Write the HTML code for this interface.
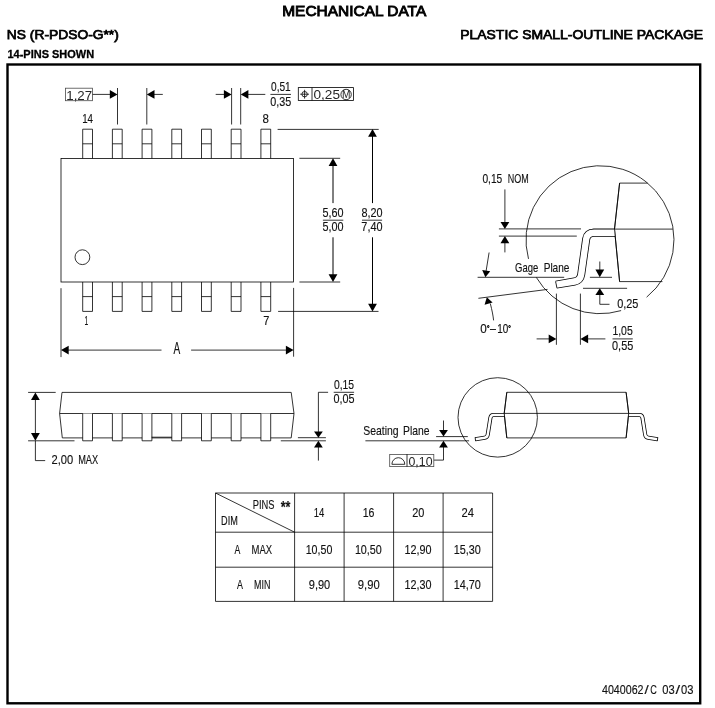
<!DOCTYPE html>
<html><head><meta charset="utf-8"><title>Mechanical Data</title>
<style>
html,body{margin:0;padding:0;background:#fff;}
svg{display:block;will-change:transform;}
.ln *{fill:none;stroke:#000;stroke-width:0.8;}
.ln .w{fill:#fff;}
.ln .d{stroke-width:1;}
.ah{fill:#000;stroke:none;}
text{font-family:"Liberation Sans",sans-serif;fill:#000;}
.t{fill:#111;stroke:#111;stroke-width:0.14px;}
.tw{fill:#262626;stroke:none;}
.tb{font-weight:bold;}
.ln .gb{stroke:#4a4a4a;}
.hb{stroke:#000;stroke-width:0.75px;}
.hb2{font-weight:bold;stroke:#000;stroke-width:0.3px;}
.hb3{stroke:#000;stroke-width:0.85px;}
</style></head>
<body>
<svg width="715" height="708" viewBox="0 0 715 708">
<rect width="715" height="708" fill="#fff"/>
<rect x="7.5" y="64.5" width="692.7" height="638.8" fill="none" stroke="#000" stroke-width="2.4"/>
<g class="ln">
<rect x="61" y="158.4" width="232.55" height="123.6"/>
<path d="M82.7,158.4 V129.2 H92.5 V158.4 M82.7,143.8 H92.5" />
<path d="M82.7,282.0 V311.4 H92.5 V282.0 M82.7,296.6 H92.5" />
<path d="M112.4,158.4 V129.2 H122.2 V158.4 M112.4,143.8 H122.2" />
<path d="M112.4,282.0 V311.4 H122.2 V282.0 M112.4,296.6 H122.2" />
<path d="M142.1,158.4 V129.2 H151.9 V158.4 M142.1,143.8 H151.9" />
<path d="M142.1,282.0 V311.4 H151.9 V282.0 M142.1,296.6 H151.9" />
<path d="M171.8,158.4 V129.2 H181.6 V158.4 M171.8,143.8 H181.6" />
<path d="M171.8,282.0 V311.4 H181.6 V282.0 M171.8,296.6 H181.6" />
<path d="M201.5,158.4 V129.2 H211.3 V158.4 M201.5,143.8 H211.3" />
<path d="M201.5,282.0 V311.4 H211.3 V282.0 M201.5,296.6 H211.3" />
<path d="M231.2,158.4 V129.2 H241.0 V158.4 M231.2,143.8 H241.0" />
<path d="M231.2,282.0 V311.4 H241.0 V282.0 M231.2,296.6 H241.0" />
<path d="M260.9,158.4 V129.2 H270.7 V158.4 M260.9,143.8 H270.7" />
<path d="M260.9,282.0 V311.4 H270.7 V282.0 M260.9,296.6 H270.7" />
<circle cx="82.4" cy="257.2" r="7.4"/>
<rect class="gb" x="65.5" y="88.2" width="27" height="12.5"/>
<line x1="92.6" y1="94.4" x2="112" y2="94.4"/>
<line x1="117.5" y1="88" x2="117.5" y2="124.5"/>
<line x1="146.8" y1="88" x2="146.8" y2="124.5"/>
<line x1="152" y1="94.4" x2="162.8" y2="94.4"/>
<line x1="215.7" y1="94.4" x2="226" y2="94.4"/>
<line x1="231.6" y1="88" x2="231.6" y2="124.5"/>
<line x1="240.7" y1="88" x2="240.7" y2="124.5"/>
<line x1="246" y1="94.4" x2="265.3" y2="94.4"/>
<line x1="270.4" y1="94.4" x2="291" y2="94.4"/>
<rect x="298.3" y="87.6" width="55.2" height="12.9"/>
<line x1="312" y1="87.6" x2="312" y2="100.5"/>
<circle cx="304.6" cy="94.2" r="2.7"/>
<line x1="300.2" y1="94.2" x2="309" y2="94.2"/>
<line x1="304.6" y1="89.8" x2="304.6" y2="98.6"/>
<circle cx="346.1" cy="94.5" r="5.2"/>
<line x1="277.6" y1="129.4" x2="378.7" y2="129.4"/>
<line x1="299.4" y1="158.3" x2="340.2" y2="158.3"/>
<line x1="299.4" y1="282.0" x2="340.2" y2="282.0"/>
<line x1="278.1" y1="311.4" x2="378.5" y2="311.4"/>
<line class="d" x1="333.0" y1="163" x2="333.0" y2="203.1"/>
<line class="d" x1="333.0" y1="237.3" x2="333.0" y2="277"/>
<line class="d" x1="372.5" y1="134" x2="372.5" y2="203.1"/>
<line class="d" x1="372.5" y1="237.3" x2="372.5" y2="306"/>
<line x1="322.9" y1="220.2" x2="343.3" y2="220.2"/>
<line x1="362" y1="220.2" x2="382.1" y2="220.2"/>
<line x1="61" y1="288.2" x2="61" y2="357.1"/>
<line x1="293.6" y1="287.9" x2="293.6" y2="356.7"/>
<line x1="66" y1="350.1" x2="161.5" y2="350.1"/>
<line x1="191.1" y1="350.1" x2="288" y2="350.1"/>
<path d="M62,392.4 H291.2 L294,413.5 L291.2,437.9 H62.3 L59.6,413.5 Z M59.6,413.5 H294" />
<path class="w" d="M82.7,413.5 V440.8 H92.5 V413.5"/>
<path class="w" d="M112.4,413.5 V440.8 H122.2 V413.5"/>
<path class="w" d="M142.1,413.5 V440.8 H151.9 V413.5"/>
<path class="w" d="M171.8,413.5 V440.8 H181.6 V413.5"/>
<path class="w" d="M201.5,413.5 V440.8 H211.3 V413.5"/>
<path class="w" d="M231.2,413.5 V440.8 H241.0 V413.5"/>
<path class="w" d="M260.9,413.5 V440.8 H270.7 V413.5"/>
<line x1="151.6" y1="437.2" x2="171.9" y2="437.2"/>
<line x1="28.1" y1="392.4" x2="55.7" y2="392.4"/>
<line x1="28.1" y1="440.8" x2="74.5" y2="440.8"/>
<line x1="35.4" y1="398" x2="35.4" y2="435"/>
<path d="M35.4,440.8 V460.6 H45.2" />
<line x1="297.9" y1="437.7" x2="325.9" y2="437.7"/>
<line x1="280.8" y1="440.8" x2="325.9" y2="440.8"/>
<path d="M328.1,392.3 H318.4 V432" />
<line x1="318.4" y1="447" x2="318.4" y2="460.6"/>
<line x1="333.7" y1="392.3" x2="354.1" y2="392.3"/>
<path d="M506.8,392.3 H626.1 L628.7,413.4 L626.1,437.9 H506.8 L504.2,413.4 Z M504.2,413.4 H628.7" />
<circle cx="497.7" cy="417.4" r="39.7"/>
<line x1="365.4" y1="440.8" x2="469.1" y2="440.8"/>
<line x1="436.1" y1="436.6" x2="467.8" y2="436.6"/>
<line x1="443.5" y1="420.5" x2="443.5" y2="431"/>
<path d="M443.5,447 V460.1 H433.9" />
<rect class="gb" x="389.7" y="454.4" width="44.1" height="12.2"/>
<line x1="407" y1="454.2" x2="407" y2="466.6"/>
<path d="M391.9,464.3 A6.45,6.6 0 0 1 404.8,464.3 Z" />
<path d="M528.5,258.9 A74,74 0 1 1 646.6,297.2" />
<path d="M621.1,310.6 A74,74 0 0 1 536.3,277.4" />
<path d="M647.6,183.1 H619.6 L614.5,229.1 L619.6,281.6 H662.4" />
<line x1="592.5" y1="229.1" x2="672.8" y2="229.1"/>
<line x1="498.9" y1="228.9" x2="581" y2="228.9"/>
<line x1="498.9" y1="236.1" x2="576.8" y2="236.1"/>
<line x1="504.9" y1="189.4" x2="504.9" y2="223"/>
<line x1="504.9" y1="243" x2="504.9" y2="252.4"/>
<line x1="477.6" y1="277.3" x2="564.2" y2="277.3"/>
<line x1="478.4" y1="298.3" x2="547.5" y2="289.4"/>
<line x1="489.1" y1="252.5" x2="486.1" y2="271"/>
<path d="M490.3,303.5 Q493,314 493.6,320.4" />
<line x1="589.9" y1="277.3" x2="612" y2="277.3"/>
<line x1="583" y1="288.3" x2="627.1" y2="288.3"/>
<line x1="599.8" y1="261.5" x2="599.8" y2="271"/>
<path d="M599.8,295 V304.3 H609.5" />
<line x1="556.4" y1="293.6" x2="556.4" y2="344.8"/>
<line x1="580.4" y1="293.6" x2="580.4" y2="344.8"/>
<line x1="536.6" y1="338.9" x2="550" y2="338.9"/>
<line x1="587" y1="338.9" x2="605.4" y2="338.9"/>
<line x1="612.5" y1="338.9" x2="632.8" y2="338.9"/>
<path d="M215.5,493 H492.6 V601.4 H215.5 Z M215.5,532.2 H492.6 M215.5,567.2 H492.6 M294.6,493 V601.4 M344.1,493 V601.4 M393.6,493 V601.4 M443.1,493 V601.4 M215.5,493 L294.6,532.2" />
</g>
<path d="M504.6,415 L493.4,415 Q490.9,415 490.4,417.8 L487.7,434.7 Q487.3,437.3 484.6,437.75 L475.3,439.2" fill="none" stroke="#000" stroke-width="4.1" stroke-linejoin="round"/>
<path d="M504.6,415 L493.4,415 Q490.9,415 490.4,417.8 L487.7,434.7 Q487.3,437.3 484.6,437.75 L475.3,439.2" fill="none" stroke="#fff" stroke-width="2.5" stroke-linejoin="round"/>
<path d="M475.1,437.3 L475.6,441.1" stroke="#000" stroke-width="0.8" fill="none"/>
<g transform="translate(1132.9,0) scale(-1,1)">
<path d="M504.6,415 L493.4,415 Q490.9,415 490.4,417.8 L487.7,434.7 Q487.3,437.3 484.6,437.75 L475.3,439.2" fill="none" stroke="#000" stroke-width="4.1" stroke-linejoin="round"/>
<path d="M504.6,415 L493.4,415 Q490.9,415 490.4,417.8 L487.7,434.7 Q487.3,437.3 484.6,437.75 L475.3,439.2" fill="none" stroke="#fff" stroke-width="2.5" stroke-linejoin="round"/>
<path d="M475.1,437.3 L475.6,441.1" stroke="#000" stroke-width="0.8" fill="none"/>
</g>
<g class="ln">
<path d="M506.8,392.3 L504.2,413.4 L506.8,437.9 M626.1,392.3 L628.7,413.4 L626.1,437.9" />
</g>
<path d="M615,232.7 L594,232.7 Q587.2,232.7 586.2,239 L581.2,274.5 Q580.3,280.4 574.5,281.5 L556.2,284.6" fill="none" stroke="#000" stroke-width="8.0" stroke-linejoin="round"/>
<path d="M615,232.7 L594,232.7 Q587.2,232.7 586.2,239 L581.2,274.5 Q580.3,280.4 574.5,281.5 L556.2,284.6" fill="none" stroke="#fff" stroke-width="6.4" stroke-linejoin="round"/>
<path d="M555.6,281.5 L556.9,287.8" stroke="#000" stroke-width="0.8" fill="none"/>
<g class="ln">
<path d="M619.6,183.1 L614.5,229.1 L619.6,281.6" />
</g>
<polygon class="ah" points="117.5,94.4 109.8,90.0 109.8,98.8"/>
<polygon class="ah" points="146.8,94.4 154.5,90.0 154.5,98.8"/>
<polygon class="ah" points="231.6,94.4 223.9,90.0 223.9,98.8"/>
<polygon class="ah" points="240.7,94.4 248.4,90.0 248.4,98.8"/>
<polygon class="ah" points="333.0,158.3 328.6,166.0 337.4,166.0"/>
<polygon class="ah" points="333.0,282.0 328.6,274.3 337.4,274.3"/>
<polygon class="ah" points="372.5,129.0 368.1,136.7 376.9,136.7"/>
<polygon class="ah" points="372.5,311.4 368.1,303.7 376.9,303.7"/>
<polygon class="ah" points="61.0,350.1 68.7,345.7 68.7,354.5"/>
<polygon class="ah" points="293.6,350.1 285.9,345.7 285.9,354.5"/>
<polygon class="ah" points="35.4,392.4 31.0,400.1 39.8,400.1"/>
<polygon class="ah" points="35.4,440.8 31.0,433.1 39.8,433.1"/>
<polygon class="ah" points="318.4,437.7 314.0,431.5 322.8,431.5"/>
<polygon class="ah" points="318.4,440.8 314.0,447.4 322.8,447.4"/>
<polygon class="ah" points="443.5,436.6 439.1,430.0 447.9,430.0"/>
<polygon class="ah" points="443.5,440.8 439.1,447.4 447.9,447.4"/>
<polygon class="ah" points="504.9,228.9 500.5,222.1 509.3,222.1"/>
<polygon class="ah" points="504.9,236.1 500.5,243.3 509.3,243.3"/>
<polygon class="ah" points="599.8,277.3 595.4,269.6 604.2,269.6"/>
<polygon class="ah" points="599.8,288.3 595.4,295.1 604.2,295.1"/>
<polygon class="ah" points="556.4,338.9 548.7,334.5 548.7,343.3"/>
<polygon class="ah" points="580.4,338.9 588.1,334.5 588.1,343.3"/>
<polygon class="ah" points="485.4,277.3 482.2,270 490.2,271.3"/>
<polygon class="ah" points="486.8,297.2 484.6,304.8 492.6,302.6"/>
<text class="hb3" x="282.26" y="15.50" font-size="13.95" textLength="143.97" lengthAdjust="spacingAndGlyphs">MECHANICAL DATA</text>
<text class="hb" x="6.87" y="39.10" font-size="12.94" textLength="111.99" lengthAdjust="spacingAndGlyphs">NS (R-PDSO-G**)</text>
<text class="hb" x="460.26" y="39.10" font-size="12.79" textLength="242.83" lengthAdjust="spacingAndGlyphs">PLASTIC SMALL-OUTLINE PACKAGE</text>
<text class="hb2" x="7.51" y="58.20" font-size="11.17" textLength="86.63" lengthAdjust="spacingAndGlyphs">14-PINS SHOWN</text>
<text class="t tw" x="66.29" y="99.55" font-size="12.89" textLength="25.88" lengthAdjust="spacingAndGlyphs">1,27</text>
<text class="t" x="82.16" y="122.65" font-size="12.46" textLength="10.83" lengthAdjust="spacingAndGlyphs">14</text>
<text class="t" x="262.60" y="122.55" font-size="12.75" textLength="6.40" lengthAdjust="spacingAndGlyphs">8</text>
<text class="t" x="271.00" y="90.55" font-size="12.32" textLength="19.69" lengthAdjust="spacingAndGlyphs">0,51</text>
<text class="t" x="270.18" y="105.75" font-size="12.32" textLength="20.97" lengthAdjust="spacingAndGlyphs">0,35</text>
<text class="t tw" x="313.47" y="99.05" font-size="12.46" textLength="26.50" lengthAdjust="spacingAndGlyphs">0,25</text>
<text class="t tw" x="341.97" y="98.15" font-size="10.76" textLength="8.47" lengthAdjust="spacingAndGlyphs">M</text>
<text class="t" x="322.47" y="216.75" font-size="12.60" textLength="21.06" lengthAdjust="spacingAndGlyphs">5,60</text>
<text class="t" x="322.47" y="231.05" font-size="12.46" textLength="21.06" lengthAdjust="spacingAndGlyphs">5,00</text>
<text class="t" x="361.43" y="216.75" font-size="12.60" textLength="21.09" lengthAdjust="spacingAndGlyphs">8,20</text>
<text class="t" x="361.34" y="231.05" font-size="12.46" textLength="21.18" lengthAdjust="spacingAndGlyphs">7,40</text>
<text class="t" x="84.39" y="325.15" font-size="12.75" textLength="3.74" lengthAdjust="spacingAndGlyphs">1</text>
<text class="t" x="263.14" y="325.15" font-size="12.75" textLength="6.12" lengthAdjust="spacingAndGlyphs">7</text>
<text class="t" x="173.38" y="354.25" font-size="16.72" textLength="6.74" lengthAdjust="spacingAndGlyphs">A</text>
<text class="t" x="51.54" y="463.85" font-size="12.75" textLength="21.70" lengthAdjust="spacingAndGlyphs">2,00</text>
<text class="t" x="78.14" y="463.85" font-size="12.94" textLength="20.05" lengthAdjust="spacingAndGlyphs">MAX</text>
<text class="t" x="333.90" y="388.65" font-size="12.60" textLength="20.14" lengthAdjust="spacingAndGlyphs">0,15</text>
<text class="t" x="333.48" y="403.15" font-size="12.75" textLength="21.08" lengthAdjust="spacingAndGlyphs">0,05</text>
<text class="t" x="363.23" y="434.95" font-size="13.37" textLength="35.45" lengthAdjust="spacingAndGlyphs">Seating</text>
<text class="t" x="403.05" y="434.95" font-size="13.37" textLength="26.51" lengthAdjust="spacingAndGlyphs">Plane</text>
<text class="t tw" x="408.52" y="465.75" font-size="12.60" textLength="23.96" lengthAdjust="spacingAndGlyphs">0,10</text>
<text class="t" x="482.40" y="182.75" font-size="12.60" textLength="19.83" lengthAdjust="spacingAndGlyphs">0,15</text>
<text class="t" x="507.66" y="182.75" font-size="12.79" textLength="20.98" lengthAdjust="spacingAndGlyphs">NOM</text>
<text class="t" x="515.12" y="271.65" font-size="12.79" textLength="23.20" lengthAdjust="spacingAndGlyphs">Gage</text>
<text class="t" x="543.67" y="271.65" font-size="12.79" textLength="25.77" lengthAdjust="spacingAndGlyphs">Plane</text>
<text class="t" font-size="12.15"><tspan x="480.14" y="333.45" textLength="6.52" lengthAdjust="spacingAndGlyphs">0</tspan><tspan x="486.92" y="330.55" font-size="7.00" stroke="#000" stroke-width="0.5" textLength="2.57" lengthAdjust="spacingAndGlyphs">°</tspan><tspan x="490.10" y="333.45" textLength="5.91" lengthAdjust="spacingAndGlyphs">–</tspan><tspan x="497.24" y="333.45" textLength="11.04" lengthAdjust="spacingAndGlyphs">10</tspan><tspan x="508.32" y="330.55" font-size="7.00" stroke="#000" stroke-width="0.5" textLength="2.57" lengthAdjust="spacingAndGlyphs">°</tspan></text>
<text class="t" x="617.17" y="307.75" font-size="12.60" textLength="21.29" lengthAdjust="spacingAndGlyphs">0,25</text>
<text class="t" x="612.40" y="334.65" font-size="12.75" textLength="20.33" lengthAdjust="spacingAndGlyphs">1,05</text>
<text class="t" x="612.07" y="350.15" font-size="12.60" textLength="21.18" lengthAdjust="spacingAndGlyphs">0,55</text>
<text class="t" x="252.73" y="509.15" font-size="13.52" textLength="21.79" lengthAdjust="spacingAndGlyphs">PINS</text>
<text class="t tb" x="280.66" y="513.36" font-size="16.66" textLength="9.85" lengthAdjust="spacingAndGlyphs">**</text>
<text class="t" x="221.05" y="525.45" font-size="13.37" textLength="16.80" lengthAdjust="spacingAndGlyphs">DIM</text>
<text class="t" x="313.67" y="517.05" font-size="13.32" textLength="10.61" lengthAdjust="spacingAndGlyphs">14</text>
<text class="t" x="362.69" y="517.05" font-size="13.32" textLength="11.77" lengthAdjust="spacingAndGlyphs">16</text>
<text class="t" x="412.15" y="517.05" font-size="13.32" textLength="12.18" lengthAdjust="spacingAndGlyphs">20</text>
<text class="t" x="461.44" y="517.05" font-size="13.32" textLength="12.49" lengthAdjust="spacingAndGlyphs">24</text>
<text class="t" x="305.69" y="554.05" font-size="13.32" textLength="26.63" lengthAdjust="spacingAndGlyphs">10,50</text>
<text class="t" x="354.88" y="554.05" font-size="13.32" textLength="26.94" lengthAdjust="spacingAndGlyphs">10,50</text>
<text class="t" x="404.48" y="554.05" font-size="13.32" textLength="27.05" lengthAdjust="spacingAndGlyphs">12,90</text>
<text class="t" x="453.77" y="554.05" font-size="13.32" textLength="27.15" lengthAdjust="spacingAndGlyphs">15,30</text>
<text class="t" x="308.78" y="589.15" font-size="13.32" textLength="21.45" lengthAdjust="spacingAndGlyphs">9,90</text>
<text class="t" x="357.77" y="589.15" font-size="13.32" textLength="21.87" lengthAdjust="spacingAndGlyphs">9,90</text>
<text class="t" x="404.48" y="589.15" font-size="13.32" textLength="27.05" lengthAdjust="spacingAndGlyphs">12,30</text>
<text class="t" x="453.77" y="589.15" font-size="13.32" textLength="27.15" lengthAdjust="spacingAndGlyphs">14,70</text>
<text class="t" x="234.38" y="554.15" font-size="13.52" textLength="5.83" lengthAdjust="spacingAndGlyphs">A</text>
<text class="t" x="251.52" y="554.15" font-size="13.52" textLength="20.58" lengthAdjust="spacingAndGlyphs">MAX</text>
<text class="t" x="236.88" y="589.05" font-size="13.37" textLength="5.93" lengthAdjust="spacingAndGlyphs">A</text>
<text class="t" x="253.97" y="589.05" font-size="13.37" textLength="16.36" lengthAdjust="spacingAndGlyphs">MIN</text>
<text class="t" font-size="12.99"><tspan x="601.95" y="694.35" textLength="41.58" lengthAdjust="spacingAndGlyphs">4040062</tspan><tspan x="644.60" y="694.35" textLength="4.20" lengthAdjust="spacingAndGlyphs">/</tspan><tspan x="650.23" y="694.35" textLength="6.61" lengthAdjust="spacingAndGlyphs">C</tspan><tspan> </tspan><tspan x="662.26" y="694.35" textLength="12.43" lengthAdjust="spacingAndGlyphs">03</tspan><tspan x="675.40" y="694.35" textLength="4.60" lengthAdjust="spacingAndGlyphs">/</tspan><tspan x="681.06" y="694.35" textLength="12.43" lengthAdjust="spacingAndGlyphs">03</tspan></text>
</svg>
</body></html>
